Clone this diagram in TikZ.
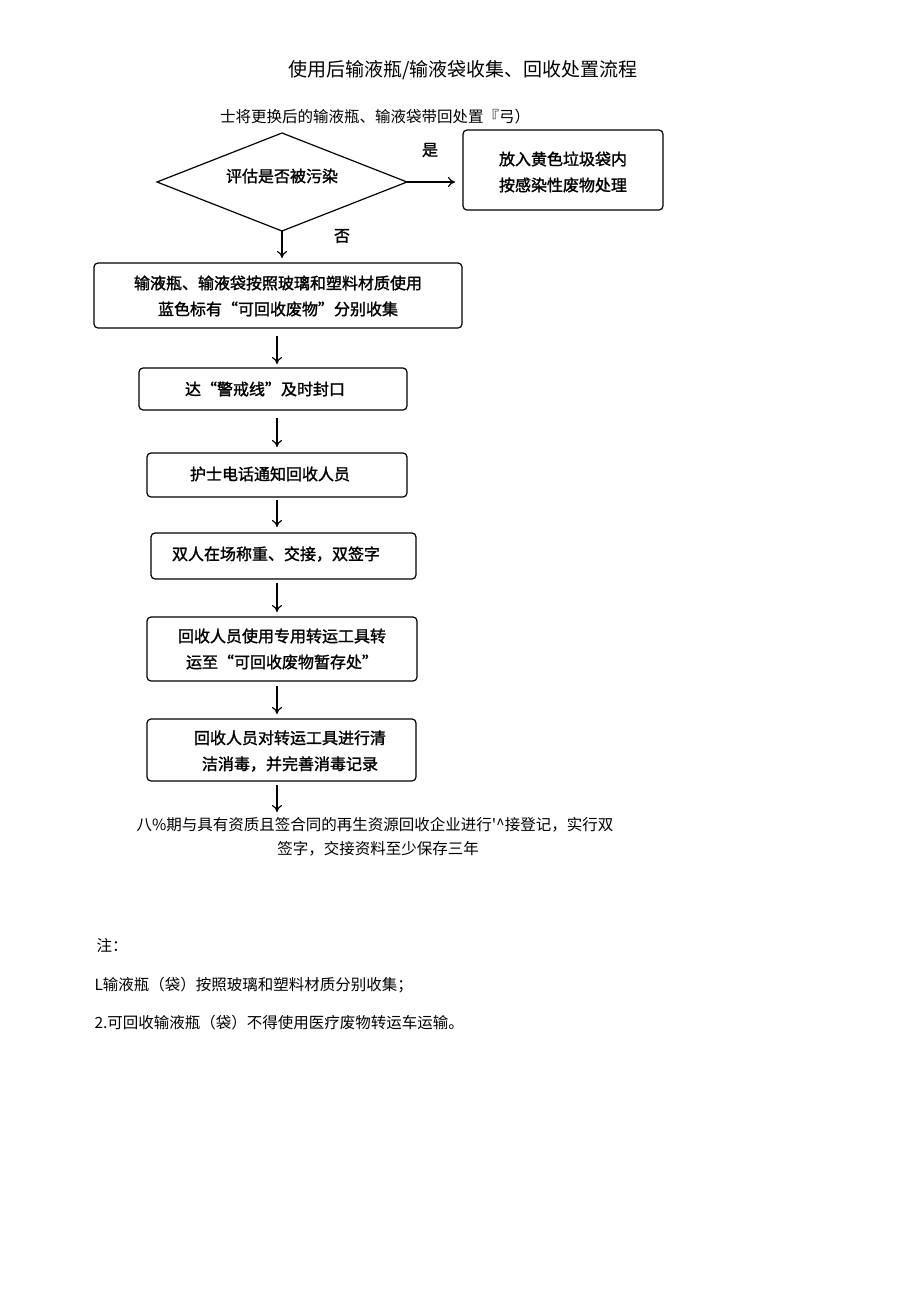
\documentclass[tikz,border=0pt]{standalone}
\usepackage{fontspec}
\usetikzlibrary{shapes.geometric,arrows.meta}
\newfontfamily\cjk{Noto Sans CJK SC}
\newfontfamily\cjkb{Noto Sans CJK SC}[FakeBold=1.5]
\begin{document}
\begin{tikzpicture}[x=1pt,y=-1pt,
  bx/.style={draw,rounded corners=4pt,line width=1.2pt,inner sep=0pt},
  bt/.style={font=\cjkb\fontsize{16}{26}\selectfont,align=center},
  ar/.style={-{To[length=7pt,width=10pt]},line width=1.2pt},
  pl/.style={font=\cjk\fontsize{15.5}{23}\selectfont}]
\useasboundingbox (0,0) rectangle (920,1301);
\node[font=\cjk\fontsize{19}{22}\selectfont] (title) at (463,70) {使用后输液瓶/输液袋收集、回收处置流程};
\node[pl] (top) at (375,117) {士将更换后的输液瓶、输液袋带回处置『弓）};
\coordinate (dl) at (157,182); \coordinate (dr) at (407,182);
\coordinate (dt) at (282,133); \coordinate (db) at (282,231);
\draw[line width=1.2pt] (dl)--(dt)--(dr)--(db)--cycle;
\node[bt] (d) at (282,176) {评估是否被污染};
\draw[bx] (463,130) rectangle (663,210);
\node[bt] (yes) at (563,172) {放入黄色垃圾袋内\\按感染性废物处理};
\coordinate (yesl) at (455,182);
\draw[ar] (dr)--(yesl);
\node[bt] (shi) at (430,150) {是};
\node[bt] (fou) at (342,236) {否};
\draw[bx] (94,263) rectangle (462,328);
\node[bt] (b1) at (278,296) {输液瓶、输液袋按照玻璃和塑料材质使用\\蓝色标有“可回收废物”分别收集};
\coordinate (a0) at (282,258);
\draw[ar] (db)--(a0);
\draw[bx] (139,368) rectangle (407,410);
\node[bt] (b2) at (265,389) {达“警戒线”及时封口};
\draw[bx] (147,453) rectangle (407,497);
\node[bt] (b3) at (270,474) {护士电话通知回收人员};
\draw[bx] (151,533) rectangle (416,579);
\node[bt] (b4) at (276,554) {双人在场称重、交接，双签字};
\draw[bx] (147,617) rectangle (417,681);
\node[bt] (b5) at (282,649) {回收人员使用专用转运工具转\\运至“可回收废物暂存处”};
\draw[bx] (147,719) rectangle (416,781);
\node[bt] (b6) at (290,751) {回收人员对转运工具进行清\\洁消毒，并完善消毒记录};
\foreach \a/\b in {336/364,418/447,500/527,583/612,686/714,785/812}{
  \coordinate (s\a) at (277,\a); \coordinate (e\a) at (277,\b);
  \draw[ar] (s\a)--(e\a);}
\node[pl] (end1) at (375,825) {八\%期与具有资质且签合同的再生资源回收企业进行'\textasciicircum 接登记，实行双};
\node[pl] (end2) at (378,849) {签字，交接资料至少保存三年};
\node[pl,anchor=west] (n0) at (93,945) {注：};
\node[pl,anchor=west] (n1) at (91,985) {L输液瓶（袋）按照玻璃和塑料材质分别收集；};
\node[pl,anchor=west] (n2) at (91,1023) {2.可回收输液瓶（袋）不得使用医疗废物转运车运输。};
\end{tikzpicture}
\end{document}
